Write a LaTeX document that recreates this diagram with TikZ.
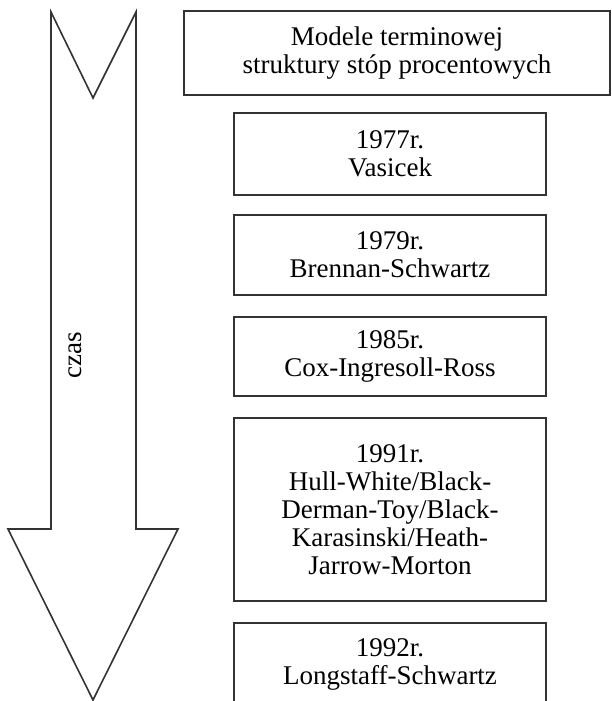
\documentclass[tikz,border=0pt]{standalone}
\usepackage{fontspec}
\setmainfont{Liberation Serif}
\usetikzlibrary{positioning}

\begin{document}
\begin{tikzpicture}[x=1pt,y=-1pt]
      \tikzstyle{model}=[draw=black!80,line width=1.3pt,align=center,inner sep=0pt,
        minimum width=312pt,font=\fontsize{27}{28}\selectfont]
      \useasboundingbox (0,0) rectangle (611,701);
      % time arrow
      \draw[black!80,line width=1.6pt,line join=miter]
        (51,12) -- (93,98) -- (136,12) -- (136,529) -- (178,529) -- (93,700)
        -- (8,529) -- (51,529) -- cycle;
      \node[rotate=90,font=\fontsize{27}{28}\selectfont] (czas) at (75,355) {czas};
      % models
      \node[model,minimum width=426pt,minimum height=84pt] (title) at (397,53)
        {Modele terminowej\\struktury stóp procentowych};
      \node[model,minimum height=82pt] (m_1) at (390,154) {1977r.\\Vasicek};
      \node[model,minimum height=80pt] (m_2) at (390,255) {1979r.\\Brennan-Schwartz};
      \node[model,minimum height=79pt] (m_3) at (390,356.5) {1985r.\\Cox-Ingresoll-Ross};
      \node[model,minimum height=183pt] (m_4) at (390,509.5)
        {1991r.\\Hull-White/Black-\\Derman-Toy/Black-\\Karasinski/Heath-\\Jarrow-Morton};
      \node[model,minimum height=82pt] (m_5) at (390,664) {1992r.\\Longstaff-Schwartz};
    \end{tikzpicture}
\end{document}
